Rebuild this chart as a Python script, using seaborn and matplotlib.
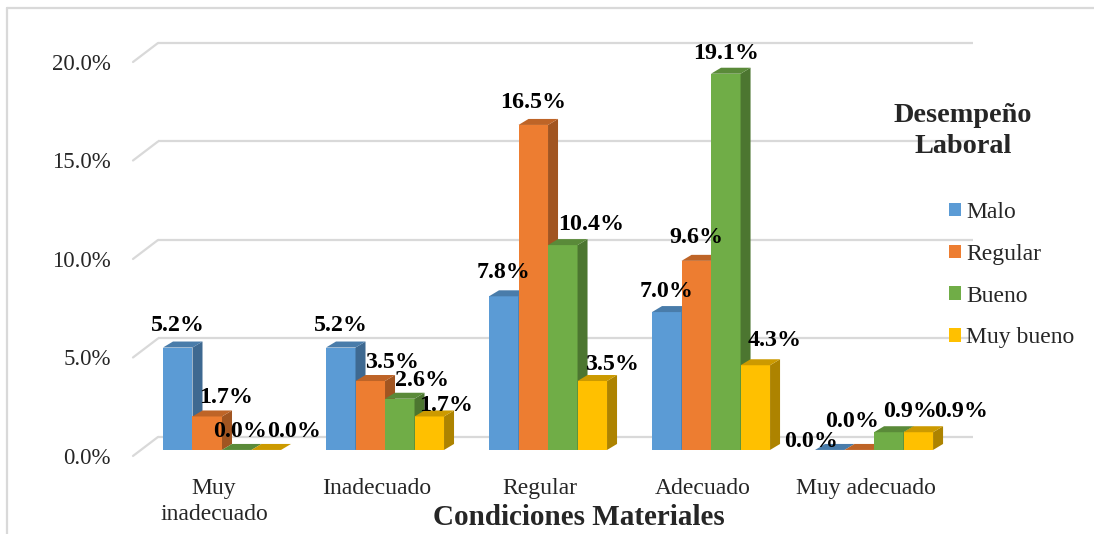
import matplotlib
matplotlib.use("Agg")
import matplotlib.pyplot as plt
import matplotlib.transforms as mtransforms
from matplotlib.patches import Polygon, Patch
from matplotlib.lines import Line2D
from matplotlib.colors import to_rgb
import seaborn as sns
import pandas as pd
import numpy as np

# ---------------- data ----------------
categories = ["Muy\ninadecuado", "Inadecuado", "Regular", "Adecuado", "Muy adecuado"]
series = ["Malo", "Regular", "Bueno", "Muy bueno"]
malo = [5.2, 5.2, 7.8, 7.0, 0.0]
regular = [1.7, 3.5, 16.5, 9.6, 0.0]
bueno = [0.0, 2.6, 10.4, 19.1, 0.9]
muy_bueno = [0.0, 1.7, 3.5, 4.3, 0.9]
y_ticks = [0, 5, 10, 15, 20]
y_tick_labels = ["0.0%", "5.0%", "10.0%", "15.0%", "20.0%"]
x_title = "Condiciones Materiales"
legend_title = ["Desempeño", "Laboral"]

# ---------------- style ----------------
colors = ["#5B9BD5", "#ED7D31", "#70AD47", "#FFC000"]
# data-label nudges (pixels) mimicking Excel's placement, [series][category]
label_dx = [[0, 0, 0, 0, -19], [19, 22, 0, 0, -7], [3, 22, 28, 0, 21], [28, 17, 20, 19, 43]]
label_dy = [[17, 17, 18, 15, 3], [13, 13, 17, 18, 23], [13, 13, 15, 15, 15], [13, 5, 11, 19, 15]]

sns.set_style("white")
plt.rcParams["font.family"] = ["Liberation Serif", "DejaVu Serif"]

df = pd.DataFrame({
    "cat": categories * len(series),
    "serie": np.repeat(series, len(categories)),
    "val": malo + regular + bueno + muy_bueno,
})

W, H, DPI = 1094, 534, 100
fig = plt.figure(figsize=(W / DPI, H / DPI), dpi=DPI)
ax_l, ax_r, ax_t, ax_b = 133, 973, 43, 460  # pixel box of the plot area
ax = fig.add_axes([ax_l / W, 1 - ax_b / H, (ax_r - ax_l) / W, (ax_b - ax_t) / H])

sns.barplot(data=df, x="cat", y="val", hue="serie", order=categories,
            hue_order=series, palette=colors, width=0.724, saturation=1,
            errorbar=None, legend=False, ax=ax, linewidth=0)

xlim = (-0.546, 4.607)
ylim = (-0.51, 20.66)
ax.set_xlim(*xlim)
ax.set_ylim(*ylim)
px_x = (xlim[1] - xlim[0]) / (ax_r - ax_l)
px_y = (ylim[1] - ylim[0]) / (ax_b - ax_t)

for s in ax.spines.values():
    s.set_visible(False)
ax.set_xlabel("")
ax.set_ylabel("")

# back-wall gridlines with 3D floor diagonal
grid_c = "#D9D9D9"
gdx = 25 * px_x
back_up = 13 * px_y
front_dn = 6 * px_y
for v in y_ticks:
    ax.plot([xlim[0] + gdx, xlim[1]], [v + back_up, v + back_up], color=grid_c,
            lw=1.6, zorder=1, clip_on=False, solid_capstyle="butt")
    ax.plot([xlim[0], xlim[0] + gdx], [v - front_dn, v + back_up], color=grid_c,
            lw=1.6, zorder=1, clip_on=False)

# 3D faces for bars
bdx = 10 * px_x
bdy = 6 * px_y
def shade(c, f):
    r, g, b = to_rgb(c)
    return (r * f, g * f, b * f)

for k, cont in enumerate(ax.containers):
    for j, bar in enumerate(cont):
        x0, w, h = bar.get_x(), bar.get_width(), bar.get_height()
        bar.set_zorder(3 + k)
        bar.set_edgecolor("none")
        side = Polygon([(x0 + w, 0), (x0 + w + bdx, bdy), (x0 + w + bdx, h + bdy), (x0 + w, h)],
                       closed=True, fc=shade(colors[k], 0.68), ec="none", zorder=3 + k + 0.5)
        top = Polygon([(x0, h), (x0 + bdx, h + bdy), (x0 + w + bdx, h + bdy), (x0 + w, h)],
                      closed=True, fc=shade(colors[k], 0.8), ec="none", zorder=3 + k + 0.5)
        ax.add_patch(side)
        ax.add_patch(top)
        off = mtransforms.ScaledTranslation(label_dx[k][j] / DPI, label_dy[k][j] / DPI,
                                            fig.dpi_scale_trans)
        ax.text(x0 + w / 2, h, f"{h:.1f}%", ha="center", va="baseline",
                fontsize=17.3, fontweight="bold", color="black",
                transform=ax.transData + off, zorder=20)

# axis ticks
ax.set_yticks([v - front_dn for v in y_ticks])
ax.set_yticklabels(y_tick_labels, fontsize=16.5)
ax.tick_params(axis="y", length=0, pad=16)
ax.set_xticks(range(len(categories)))
ax.set_xticklabels(categories, fontsize=17)
ax.tick_params(axis="x", length=0, pad=13)
shift = mtransforms.ScaledTranslation(-8 / DPI, 0, fig.dpi_scale_trans)
for lab in ax.get_xticklabels():
    lab.set_transform(lab.get_transform() + shift)
    lab.set_linespacing(1.3)

fig.text(579 / W, 1 - 525 / H, x_title, ha="center", va="baseline",
         fontsize=21, fontweight="bold")

# legend
fig.text(963 / W, 1 - 122 / H, legend_title[0], ha="center", va="baseline",
         fontsize=20.3, fontweight="bold")
fig.text(963 / W, 1 - 153 / H, legend_title[1], ha="center", va="baseline",
         fontsize=20.3, fontweight="bold")
handles = [Patch(facecolor=c, edgecolor="none") for c in colors]
fig.legend(handles, series, loc="upper left", bbox_to_anchor=(949 / W, 1 - 202 / H),
           bbox_transform=fig.transFigure, frameon=False, fontsize=17,
           borderpad=0, borderaxespad=0, handlelength=0.5, handleheight=0.5,
           handletextpad=0.22, labelspacing=0.88)

# outer chart border (top & left visible)
fig.add_artist(Line2D([7 / W, 1], [1 - 8 / H, 1 - 8 / H], transform=fig.transFigure,
                      color=grid_c, lw=1.6))
fig.add_artist(Line2D([7 / W, 7 / W], [1 - 8 / H, 0], transform=fig.transFigure,
                      color=grid_c, lw=1.6))

fig.savefig("out.png", dpi=DPI, facecolor="white")
